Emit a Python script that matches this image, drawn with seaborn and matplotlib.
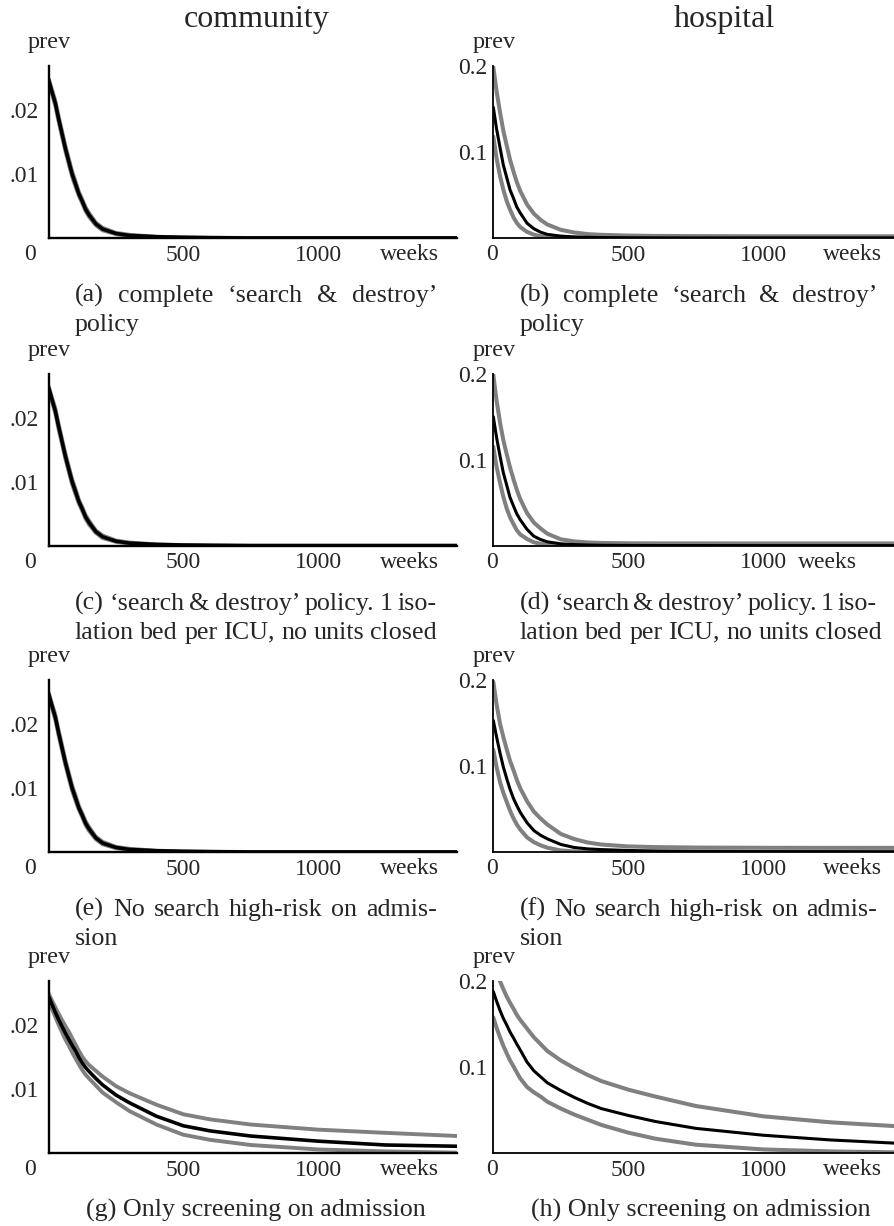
import matplotlib
matplotlib.use("Agg")
import matplotlib.pyplot as plt
import seaborn as sns

# ---------------- data ----------------
weeks_c = [0, 12, 25, 37, 50, 62, 75, 87, 100, 112, 125, 137, 150, 175, 200, 250, 300, 400, 500, 600, 750, 1000, 1250, 1520]
weeks_h = [0, 12, 25, 37, 50, 62, 75, 87, 100, 125, 150, 175, 200, 250, 300, 350, 400, 500, 600, 750, 1000, 1250, 1520]

# community, 'search & destroy' type policies (a), (c), (e)
comm_sd_mean = [.0247, .0229, .0210, .0186, .0162, .0140, .0119, .0100, .0084, .0069, .0057, .0045, .0036, .0022, .0014, .0007, .0004, .0002, .0001, .00005, 0, 0, 0, 0]
comm_sd_upper = [.0249, .0232, .0214, .0190, .0166, .0144, .0123, .0104, .0088, .0072, .0060, .0048, .0039, .0024, .0016, .0008, .0005, .0002, .0001, .00005, 0, 0, 0, 0]
comm_sd_lower = [.0245, .0226, .0206, .0182, .0158, .0136, .0115, .0096, .0080, .0066, .0054, .0042, .0033, .0020, .0012, .0006, .0003, .0001, 0, 0, 0, 0, 0, 0]

# community, only screening on admission (g)
comm_scr_mean = [.0245, .0233, .0220, .0209, .0198, .0188, .0178, .0169, .0160, .0150, .0141, .0134, .0128, .0117, .0107, .0091, .0079, .0058, .0043, .0035, .0027, .0019, .0013, .0011]
comm_scr_upper = [.0250, .0239, .0228, .0218, .0208, .0199, .0190, .0180, .0170, .0160, .0151, .0144, .0138, .0129, .0120, .0105, .0094, .0076, .0061, .0053, .0045, .0037, .0032, .0027]
comm_scr_lower = [.0240, .0226, .0213, .0201, .0189, .0178, .0168, .0158, .0148, .0139, .0130, .0123, .0117, .0106, .0095, .0080, .0066, .0045, .0029, .0021, .0013, .0006, .0003, .0001]

# hospital (b)
hosp_b_mean = [.152, .127, .105, .085, .070, .056, .046, .036, .029, .0172, .0108, .0068, .0042, .0022, .0013, .0008, .0005, .0003, .0002, .0001, .0001, .0001, .0001]
hosp_b_upper = [.199, .171, .146, .125, .107, .091, .077, .065, .0545, .039, .0284, .0211, .0157, .0095, .0064, .0045, .0037, .0028, .0024, .0022, .0020, .0020, .0020]
hosp_b_lower = [.118, .093, .072, .0563, .0427, .033, .0238, .0175, .0127, .0071, .0039, .0021, .0011, .0004, .0001, 0, 0, 0, 0, 0, 0, 0, 0]
# hospital (d)
hosp_d_mean = [.150, .126, .104, .085, .070, .056, .046, .037, .030, .019, .011, .0072, .0045, .0022, .0013, .0008, .0005, .0003, .0002, .0002, .0001, .0001, .0001]
hosp_d_upper = [.199, .169, .143, .123, .106, .091, .077, .065, .054, .038, .027, .020, .014, .0074, .0050, .0038, .0032, .0028, .0027, .0027, .0026, .0026, .0026]
hosp_d_lower = [.115, .092, .073, .057, .043, .033, .025, .018, .013, .0078, .004, .0022, .0012, .0004, .0001, 0, 0, 0, 0, 0, 0, 0, 0]
# hospital (f)
hosp_f_mean = [.153, .134, .115, .099, .085, .073, .062, .054, .046, .034, .025, .0195, .0153, .0088, .0052, .0036, .0028, .0018, .0012, .0008, .0005, .0004, .0003]
hosp_f_upper = [.198, .172, .149, .134, .119, .106, .095, .084, .074, .059, .047, .039, .032, .021, .0150, .011, .0087, .0065, .0057, .0052, .0049, .0048, .0048]
hosp_f_lower = [.119, .099, .081, .069, .058, .048, .039, .032, .026, .017, .0115, .0078, .005, .0018, .0007, .0003, .0001, 0, 0, 0, 0, 0, 0]
# hospital (h)
hosp_h_mean = [.188, .177, .166, .157, .149, .141, .134, .127, .120, .106, .096, .089, .082, .073, .065, .058, .052, .044, .037, .029, .021, .0155, .0113]
hosp_h_upper = [.212, .206, .200, .191, .182, .175, .168, .161, .155, .145, .135, .127, .119, .108, .099, .091, .084, .074, .066, .055, .043, .036, .031]
hosp_h_lower = [.158, .146, .135, .125, .116, .108, .101, .094, .087, .077, .071, .066, .060, .052, .045, .039, .033, .024, .017, .010, .0045, .0022, .001]

column_titles = ["community", "hospital"]
x_tick_values = [250, 500, 750, 1000, 1250]
x_tick_labels = ["", "500", "", "1000", ""]
comm_y_ticks = [0.005, 0.01, 0.015, 0.02, 0.025]
comm_y_labels = ["", ".01", "", ".02", ""]
hosp_y_ticks = [0.05, 0.1, 0.15, 0.2]
hosp_y_labels = ["", "0.1", "", "0.2"]

captions_left = [
    ["(a) complete \u2018search & destroy\u2019", "policy"],
    ["(c) \u2018search & destroy\u2019 policy. 1 iso-", "lation bed per ICU, no units closed"],
    ["(e) No search high-risk on admis-", "sion"],
    ["(g) Only screening on admission"],
]
captions_right = [
    ["(b) complete \u2018search & destroy\u2019", "policy"],
    ["(d) \u2018search & destroy\u2019 policy. 1 iso-", "lation bed per ICU, no units closed"],
    ["(f) No search high-risk on admis-", "sion"],
    ["(h) Only screening on admission"],
]

left_series = [
    (comm_sd_mean, comm_sd_upper, comm_sd_lower),
    (comm_sd_mean, comm_sd_upper, comm_sd_lower),
    (comm_sd_mean, comm_sd_upper, comm_sd_lower),
    (comm_scr_mean, comm_scr_upper, comm_scr_lower),
]
right_series = [
    (hosp_b_mean, hosp_b_upper, hosp_b_lower),
    (hosp_d_mean, hosp_d_upper, hosp_d_lower),
    (hosp_f_mean, hosp_f_upper, hosp_f_lower),
    (hosp_h_mean, hosp_h_upper, hosp_h_lower),
]

# ---------------- style ----------------
sns.set_style("white")
plt.rcParams["font.family"] = ["Liberation Serif", "DejaVu Serif"]
GRAY = "#808080"

W, H = 894, 1226
fig = plt.figure(figsize=(W / 100, H / 100), dpi=100)
fig.patch.set_facecolor("white")

row_bottoms = [238, 545.7, 852, 1153.3]
AX_H = 172
TICK_FS = 17
CAP_FS = 18.7


def fx(px):
    return px / W


def fy(py):
    return 1 - py / H


def make_axes(x0, width, bottom):
    return fig.add_axes([fx(x0), fy(bottom), width / W, AX_H / H])


def style_axes(ax, lw, ypad):
    for s in ["top", "right"]:
        ax.spines[s].set_visible(False)
    for s in ["left", "bottom"]:
        ax.spines[s].set_linewidth(lw)
        ax.spines[s].set_color("black")
    ax.tick_params(axis="both", direction="in", length=2.5, width=1.6, color="black",
                   labelsize=TICK_FS)
    ax.tick_params(axis="x", pad=4.8)
    ax.tick_params(axis="y", pad=ypad)
    ax.set_xlabel("")
    ax.set_ylabel("")
    ax.set_facecolor("white")


def draw_lines(ax, weeks, series, black_lw, gray_lw):
    mean, upper, lower = series
    sns.lineplot(x=weeks, y=upper, ax=ax, color=GRAY, lw=gray_lw, legend=False)
    sns.lineplot(x=weeks, y=lower, ax=ax, color=GRAY, lw=gray_lw, legend=False)
    sns.lineplot(x=weeks, y=mean, ax=ax, color="black", lw=black_lw, legend=False)


def justified(words_line, x0, x1, y, size):
    words = words_line.split(" ")
    r = fig.canvas.get_renderer()
    texts = [fig.text(0, 0, w, fontsize=size, va="baseline", ha="left") for w in words]
    widths = [t.get_window_extent(r).width for t in texts]
    gap = (x1 - x0 - sum(widths)) / max(len(words) - 1, 1)
    x = x0
    for t, w in zip(texts, widths):
        t.set_position((fx(x), fy(y)))
        x += w + gap


LX0, LW = 48.7, 408
RX0, RW = 493.3, 400.7

for i in range(4):
    b = row_bottoms[i]
    # ---- community column ----
    ax = make_axes(LX0, LW, b)
    draw_lines(ax, weeks_c, left_series[i], 2.6, 2.8)
    ax.set_xlim(0, 1515)
    ax.set_ylim(0, 0.0269)
    style_axes(ax, 1.7, 7)
    ax.set_xticks(x_tick_values, x_tick_labels)
    ax.set_yticks(comm_y_ticks, comm_y_labels)
    ax.annotate("0", xy=(0, 0), xycoords=("data", "axes fraction"), xytext=(-18.7, -22),
                textcoords="offset pixels", ha="center", va="baseline", fontsize=TICK_FS)
    ax.annotate("weeks", xy=(1338, 0), xycoords=("data", "axes fraction"), xytext=(0, -22),
                textcoords="offset pixels", ha="center", va="baseline", fontsize=TICK_FS)
    fig.text(fx(28), fy(b - AX_H - 18), "prev", fontsize=17.5, ha="left", va="baseline")

    # ---- hospital column ----
    ax2 = make_axes(RX0, RW, b)
    draw_lines(ax2, weeks_h, right_series[i], 2.2, 2.9)
    ax2.set_xlim(0, 1484)
    ax2.set_ylim(0, 0.2)
    style_axes(ax2, 1.3, 4.5)
    ax2.set_xticks(x_tick_values, x_tick_labels)
    ax2.set_yticks(hosp_y_ticks, hosp_y_labels)
    ax2.annotate("0", xy=(0, 0), xycoords=("data", "axes fraction"), xytext=(-1.6, -22),
                 textcoords="offset pixels", ha="center", va="baseline", fontsize=TICK_FS)
    weeks_x = 1239 if i == 1 else 1332
    ax2.annotate("weeks", xy=(weeks_x, 0), xycoords=("data", "axes fraction"), xytext=(0, -22),
                 textcoords="offset pixels", ha="center", va="baseline", fontsize=TICK_FS)
    fig.text(fx(473), fy(b - AX_H - 18), "prev", fontsize=17.5, ha="left", va="baseline")

    # ---- captions ----
    capL = captions_left[i]
    capR = captions_right[i]
    if len(capL) == 1:
        fig.text(fx(256), fy(b + 63), capL[0], fontsize=CAP_FS, ha="center", va="baseline")
        fig.text(fx(701), fy(b + 63), capR[0], fontsize=CAP_FS, ha="center", va="baseline")
    else:
        justified(capL[0], 75, 437, b + 64, CAP_FS)
        justified(capR[0], 520, 877, b + 64, CAP_FS)
        if len(capL[1]) > 12:
            justified(capL[1], 75, 437, b + 93, CAP_FS)
            justified(capR[1], 520, 882, b + 93, CAP_FS)
        else:
            fig.text(fx(75), fy(b + 93), capL[1], fontsize=CAP_FS, ha="left", va="baseline")
            fig.text(fx(520), fy(b + 93), capR[1], fontsize=CAP_FS, ha="left", va="baseline")

# column titles
fig.text(fx(257), fy(27), column_titles[0], fontsize=23, ha="center", va="baseline")
fig.text(fx(724), fy(27), column_titles[1], fontsize=23, ha="center", va="baseline")

fig.savefig("out.png", dpi=100, facecolor="white")
